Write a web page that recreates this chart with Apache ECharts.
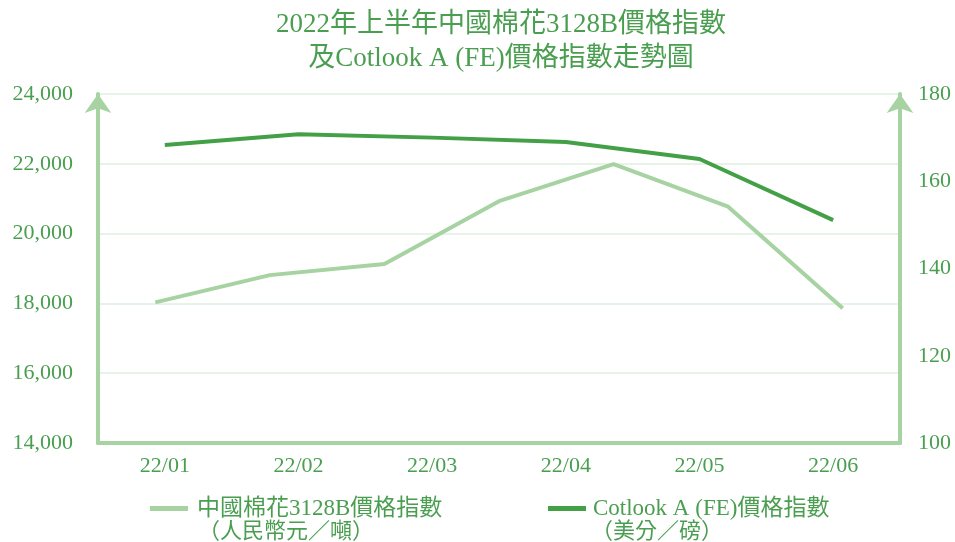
<!DOCTYPE html>
<html>
<head>
<meta charset="utf-8">
<script src="https://cdn.jsdelivr.net/npm/echarts@6/dist/echarts.min.js"></script>
<style>
html,body{margin:0;padding:0;background:#fff;}
#main{width:955px;height:542px;}
</style>
</head>
<body>
<div id="main"></div>
<script>
// 月份與數據
var months = ['22/01', '22/02', '22/03', '22/04', '22/05', '22/06'];
var cnSteps = ['1', '2', '3', '4', '5', '6', '7'];
var cnIndex = [18030, 18810, 19130, 20930, 21990, 20770, 17860];
var cotlook = [168.3, 170.8, 170.0, 169.0, 165.1, 151.1];
var leftTicks = [14000, 24000, 2000];
var rightTicks = [100, 180, 20];

var txt = '#4a9e50';
var light = '#a6d3a1';
var dark = '#43a047';
var serif = '"Liberation Serif", "Noto Sans CJK TC", serif';

var myChart = echarts.init(document.getElementById('main'));

function comma(v) {
    return String(v).replace(/\B(?=(\d{3})+(?!\d))/g, ',');
}

var option = {
    backgroundColor: '#fff',
    animation: false,
    title: {
        text: '2022年上半年中國棉花3128B價格指數\n及Cotlook A (FE)價格指數走勢圖',
        left: 496,
        top: 3,
        textAlign: 'center',
        textStyle: {
            color: txt,
            fontFamily: serif,
            fontWeight: 'normal',
            fontSize: 27,
            lineHeight: 34
        }
    },
    grid: {
        left: 98,
        right: 55,
        top: 94,
        bottom: 99
    },
    legend: [{
        left: 145,
        top: 492,
        itemWidth: 38,
        itemHeight: 5,
        icon: 'rect',
        data: ['中國棉花3128B價格指數'],
        textStyle: {color: txt, fontFamily: serif, fontSize: 23, padding: [0, 0, 0, 4]}
    }, {
        left: 543,
        top: 492,
        itemWidth: 38,
        itemHeight: 5,
        icon: 'rect',
        data: ['Cotlook A (FE)價格指數'],
        textStyle: {color: txt, fontFamily: serif, fontSize: 23, padding: [0, 0, 0, 2]}
    }],
    graphic: [{
        type: 'text',
        left: 198,
        top: 521,
        style: {text: '（人民幣元／噸）', fill: txt, font: '22px ' + serif}
    }, {
        type: 'text',
        left: 591,
        top: 521,
        style: {text: '（美分／磅）', fill: txt, font: '22px ' + serif}
    }],
    xAxis: [{
        type: 'category',
        data: months,
        boundaryGap: true,
        axisLine: {lineStyle: {color: light, width: 4}},
        axisTick: {show: false},
        axisLabel: {color: txt, fontFamily: serif, fontSize: 22, margin: 12}
    }, {
        type: 'category',
        data: cnSteps,
        boundaryGap: true,
        show: false
    }],
    yAxis: [{
        type: 'value',
        min: leftTicks[0],
        max: leftTicks[1],
        interval: leftTicks[2],
        axisLine: {
            show: true,
            symbol: ['none', 'arrow'],
            symbolSize: [20, 19],
            symbolOffset: [0, 0],
            lineStyle: {color: light, width: 4}
        },
        axisTick: {show: false},
        splitLine: {lineStyle: {color: '#e8f3e7', width: 2}},
        axisLabel: {color: txt, fontFamily: serif, fontSize: 22, margin: 25, formatter: comma}
    }, {
        type: 'value',
        min: rightTicks[0],
        max: rightTicks[1],
        interval: rightTicks[2],
        axisLine: {
            show: true,
            symbol: ['none', 'arrow'],
            symbolSize: [20, 19],
            symbolOffset: [0, 0],
            lineStyle: {color: light, width: 4}
        },
        axisTick: {show: false},
        splitLine: {show: false},
        axisLabel: {color: txt, fontFamily: serif, fontSize: 22, margin: 18}
    }],
    series: [{
        name: '中國棉花3128B價格指數',
        type: 'line',
        xAxisIndex: 1,
        yAxisIndex: 0,
        data: cnIndex,
        showSymbol: false,
        lineStyle: {color: light, width: 4},
        itemStyle: {color: light}
    }, {
        name: 'Cotlook A (FE)價格指數',
        type: 'line',
        xAxisIndex: 0,
        yAxisIndex: 1,
        data: cotlook,
        showSymbol: false,
        lineStyle: {color: dark, width: 4},
        itemStyle: {color: dark}
    }]
};

myChart.setOption(option);
</script>
</body>
</html>
